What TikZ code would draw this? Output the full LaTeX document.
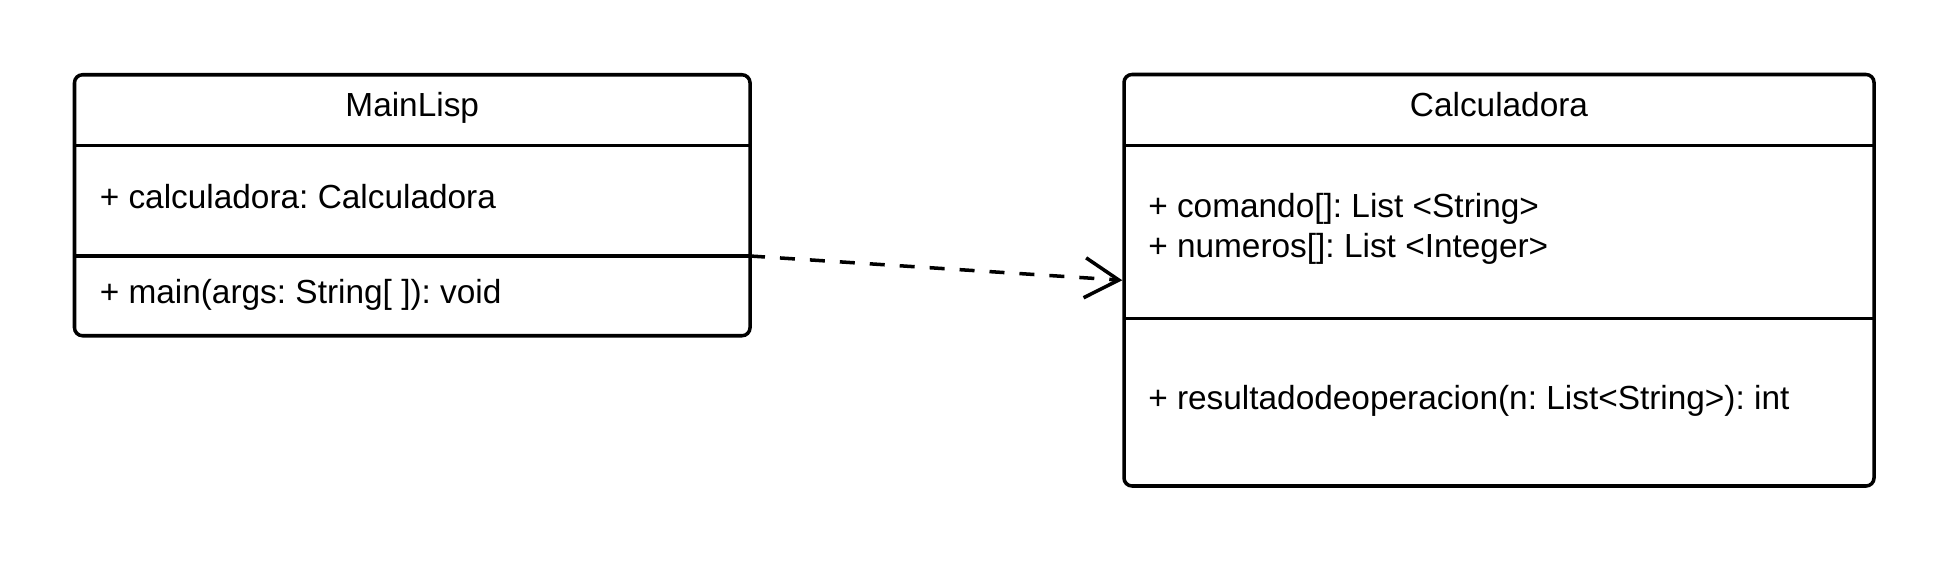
\documentclass[tikz,border=0pt]{standalone}
\usepackage{fontspec}
\setmainfont{Liberation Sans}
\usetikzlibrary{arrows.meta}
\frenchspacing

\tikzset{
  classbox/.style={draw, line width=2pt, rounded corners=0.16cm, inner sep=0pt},
  classname/.style={anchor=base, inner sep=0pt, font=\fontsize{19}{23}\selectfont},
  member/.style={anchor=west, inner sep=0pt, align=left, font=\fontsize{19}{23}\selectfont},
  uses/.style={line width=2pt, dash pattern=on 0.3cm off 0.3cm, -{Straight Barb[length=0.68cm, width=0.8cm]}}
}

\begin{document}
\begin{tikzpicture}[line width=2pt]
\useasboundingbox (0,0) rectangle (39,-11.26);

\node[classbox, minimum width=13.51cm, minimum height=5.22cm] (mainlisp) at (8.245,-4.105) {};
\draw (1.49,-2.91) -- (15.0,-2.91);
\draw (1.49,-5.12) -- (15.0,-5.12);

\node[classbox, minimum width=15.0cm, minimum height=8.23cm] (calc) at (29.98,-5.605) {};
\draw (22.48,-2.91) -- (37.48,-2.91);
\draw (22.48,-6.37) -- (37.48,-6.37);

\node[classname] (mainlispname) at (8.245,-2.34) {MainLisp};
\node[member] (mainlispattr) at (1.96,-3.93) {+ calculadora: Calculadora};
\node[member] (mainlispop) at (1.96,-5.9) {+ main(args: String[ ]): void};

\node[classname] (calcname) at (29.98,-2.34) {Calculadora};
\node[member] (calcattr) at (22.93,-4.58) {+ comando[]: List <String>\\+ numeros[]: List <Integer>};
\node[member] (calcop) at (22.93,-8.02) {+ resultadodeoperacion(n: List<String>): int};

\coordinate (usesstart) at (15.0,-5.12);
\draw[uses] (usesstart) -- (calc.west);
\end{tikzpicture}
\end{document}
